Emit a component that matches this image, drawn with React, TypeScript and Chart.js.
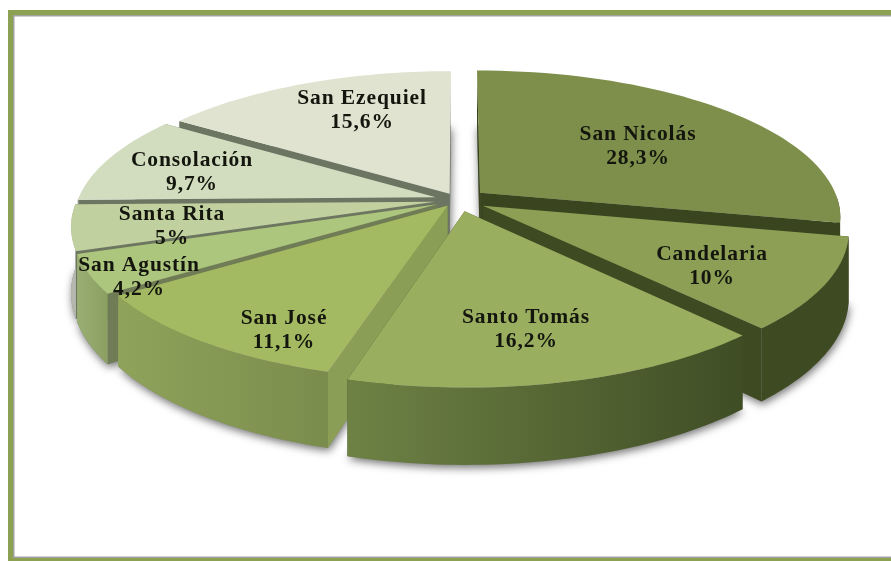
import React, { useEffect, useRef } from "react";
import { Chart, registerables } from "chart.js";

Chart.register(...registerables);

const categories = ["San Nicolás", "Candelaria", "Santo Tomás", "San José", "San Agustín", "Santa Rita", "Consolación", "San Ezequiel"];
const shares = [28.3, 10, 16.2, 11.1, 4.2, 5, 9.7, 15.6];
const shareLabels = ["28,3%", "10%", "16,2%", "11,1%", "4,2%", "5%", "9,7%", "15,6%"];

const topColors = ["#7D8F4A", "#8C9F55", "#9AAE60", "#A4BA62", "#ADC67E", "#C0D09F", "#D2DDBF", "#DFE3D0"];
const wallColors = ["#3A451F", "#3E4A22", "#3E4C24", "#8A9E55", "#6F7C55", "#6C7660", "#6C7462", "#6C7462"];
const rimLeft = ["#3A451F", "#3E4A22", "#6E8245", "#8FA35B", "#9AAE74", "#B4B8AC", "#B4B8AC", "#B0B4A0"];
const rimRight = ["#3A451F", "#3E4A22", "#3F4D25", "#7A8C4C", "#8A9F60", "#B4B8AC", "#B4B8AC", "#B0B4A0"];
const explode = [0.08, 0.08, 0.08, 0.05, 0.065, 0.065, 0.065, 0.05];
const labelCenters = [[638, 146], [712, 266], [526, 329], [284, 330], [139, 277], [172, 226], [192, 172], [362, 110]];

const CX = 458, CY = 200, RX = 358, RY = 144, PERSP = 0.16, DEPTH = 64, STEPS = 48;

type P = [number, number];

function project(ang: number, r: number, mid: number, e: number, z: number): P {
  const X = r * Math.cos(ang) + e * Math.cos(mid);
  const Y = r * Math.sin(ang) + e * Math.sin(mid);
  const w = 1 / (1 - PERSP * Y);
  return [CX + RX * X * w, CY + (RY * Y + DEPTH * z) * w];
}

function fillPoly(ctx: CanvasRenderingContext2D, pts: P[], fill: string | CanvasGradient) {
  ctx.beginPath();
  pts.forEach((p, i) => (i ? ctx.lineTo(p[0], p[1]) : ctx.moveTo(p[0], p[1])));
  ctx.closePath();
  ctx.fillStyle = fill;
  ctx.fill();
}

const pie3d = {
  id: "pie3d",
  beforeDatasetsDraw(chart: any) {
    const ctx: CanvasRenderingContext2D = chart.ctx;
    const arcs = chart.getDatasetMeta(0).data;
    const slices = arcs.map((arc: any, i: number) => {
      const s = arc.startAngle, t = arc.endAngle, m = (s + t) / 2, e = explode[i];
      const rimAt = (z: number) => {
        const out: P[] = [];
        for (let k = 0; k <= STEPS; k++) out.push(project(s + ((t - s) * k) / STEPS, 1, m, e, z));
        return out;
      };
      // only the part of the rim that faces the viewer is painted
      const facing: number[] = [];
      for (let k = 0; k <= STEPS; k++) {
        if (Math.sin(s + ((t - s) * k) / STEPS) > 0) facing.push(k);
      }
      return { i, s, t, m, e, top: rimAt(0), bottom: rimAt(1), facing };
    });

    ctx.save();
    // soft shadow cast from the underside of each slice
    ctx.shadowColor = "rgba(0,0,0,0.55)";
    ctx.shadowBlur = 8;
    ctx.shadowOffsetX = 1;
    ctx.shadowOffsetY = 3;
    for (const sl of slices) {
      fillPoly(ctx, [project(sl.m, 0, sl.m, sl.e, 1), ...sl.bottom], "#8a8a8a");
    }
    ctx.restore();

    const order = [...slices].sort((a: any, b: any) => {
      return project(a.m, 0.5, a.m, a.e, 0)[1] - project(b.m, 0.5, b.m, b.e, 0)[1];
    });

    for (const sl of order) {
      const a0 = project(sl.m, 0, sl.m, sl.e, 0);
      const a1 = project(sl.m, 0, sl.m, sl.e, 1);
      const c = wallColors[sl.i];
      fillPoly(ctx, [a0, sl.top[0], sl.bottom[0], a1], c);
      fillPoly(ctx, [a0, sl.top[STEPS], sl.bottom[STEPS], a1], c);
      if (sl.facing.length > 1) {
        const upper: P[] = sl.facing.map((k: number) => sl.top[k]);
        const lower: P[] = sl.facing.map((k: number) => sl.bottom[k]).reverse();
        const xs = upper.map((p) => p[0]);
        const g = ctx.createLinearGradient(Math.min(...xs), 0, Math.max(...xs) + 1, 0);
        g.addColorStop(0, rimLeft[sl.i]);
        g.addColorStop(1, rimRight[sl.i]);
        fillPoly(ctx, [...upper, ...lower], g);
      }
      fillPoly(ctx, [a0, ...sl.top], topColors[sl.i]);
    }

    ctx.save();
    ctx.fillStyle = "#14160e";
    ctx.font = 'bold 21.5px "Liberation Serif"';
    (ctx as any).letterSpacing = "0.9px";
    ctx.textAlign = "center";
    ctx.textBaseline = "middle";
    categories.forEach((name, i) => {
      const [x, y] = labelCenters[i];
      ctx.fillText(name, x, y - 12);
      ctx.fillText(shareLabels[i], x, y + 12);
    });
    ctx.restore();
    return false;
  },
};

export default function App() {
  const ref = useRef<HTMLCanvasElement>(null);
  useEffect(() => {
    const chart = new Chart(ref.current as HTMLCanvasElement, {
      type: "pie",
      data: {
        labels: categories,
        datasets: [{ data: shares, backgroundColor: topColors, borderWidth: 0 }],
      },
      options: {
        animation: false,
        responsive: false,
        plugins: { legend: { display: false }, tooltip: { enabled: false } },
      },
      plugins: [pie3d],
    } as any);
    return () => chart.destroy();
  }, []);
  return (
    <div style={{ position: "fixed", inset: 0, overflow: "hidden", background: "#fff", filter: "blur(0.5px)" }}>
      <div
        style={{
          position: "absolute",
          left: 8,
          top: 10,
          width: 1000,
          height: 551,
          boxSizing: "border-box",
          border: "solid #8CA252",
          borderWidth: "5px 5px 3px 5px",
          boxShadow: "inset 1.5px 1.5px 0 #A0A0A0, inset -1.5px -1.5px 0 #A0A0A0",
        }}
      />
      <canvas ref={ref} width={891} height={561} style={{ position: "absolute", left: 0, top: 0, display: "block" }} />
    </div>
  );
}
